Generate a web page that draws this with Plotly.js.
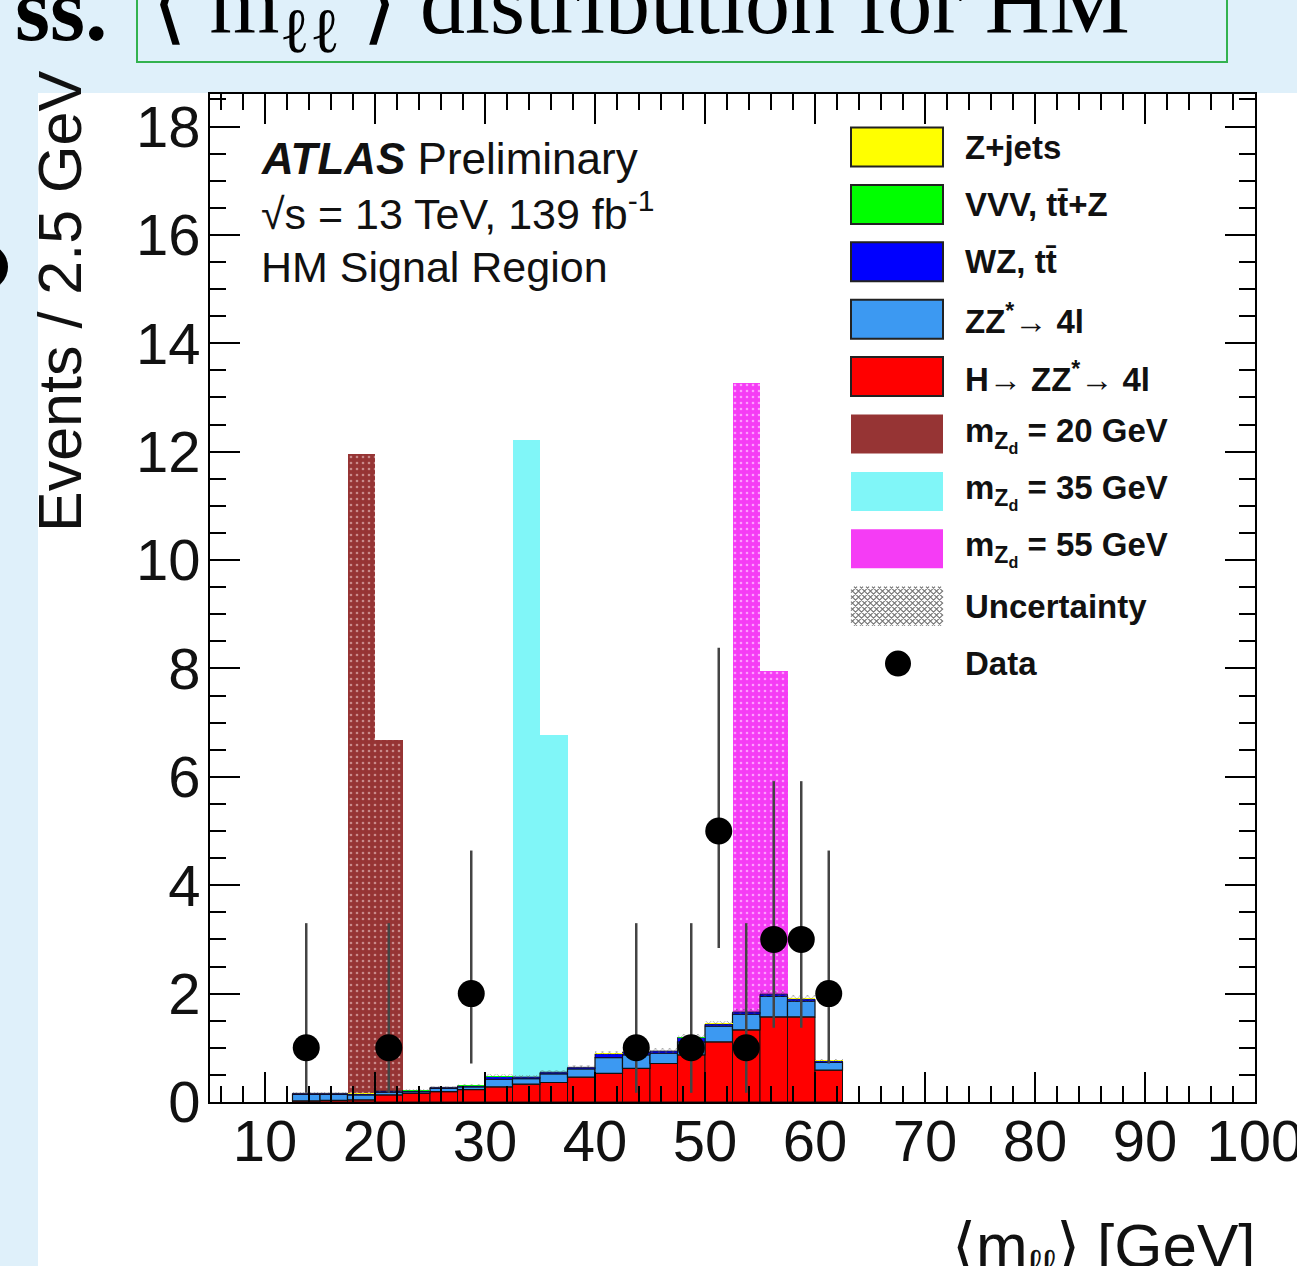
<!DOCTYPE html>
<html><head><meta charset="utf-8">
<script src="https://cdn.plot.ly/plotly-3.0.1.min.js"></script>
<style>html,body{margin:0;padding:0;background:#dff0fa;overflow:hidden}</style>
</head><body><div id="chart" style="width:1297px;height:1266px"></div>
<script>
// ---------------- data ----------------
const binCenters = [13.75,16.25,18.75,21.25,23.75,26.25,28.75,31.25,33.75,36.25,38.75,41.25,43.75,46.25,48.75,51.25,53.75,56.25,58.75,61.25];
const higgs = [0.02,0.03,0.04,0.13,0.16,0.19,0.23,0.28,0.33,0.36,0.46,0.53,0.62,0.71,0.87,1.11,1.33,1.57,1.57,0.59];
const zz    = [0.12,0.11,0.09,0.05,0.03,0.06,0.05,0.14,0.10,0.16,0.15,0.29,0.25,0.19,0.24,0.29,0.29,0.38,0.29,0.14];
const wz    = [0.02,0.02,0.02,0.02,0.02,0.02,0.02,0.05,0.03,0.03,0.03,0.07,0.05,0.04,0.08,0.04,0.04,0.04,0.04,0.03];
const vvv   = [0.005,0.005,0.005,0.005,0.005,0.005,0.005,0.005,0.005,0.005,0.005,0.005,0.005,0.005,0.005,0.005,0.005,0.005,0.005,0.005];
const zjets = [0.005,0.005,0.005,0.005,0.005,0.005,0.005,0.005,0.005,0.005,0.005,0.005,0.005,0.005,0.005,0.005,0.005,0.005,0.005,0.005];
const uncert = [0.02,0.02,0.02,0.02,0.02,0.02,0.02,0.03,0.03,0.03,0.03,0.04,0.04,0.04,0.05,0.05,0.05,0.06,0.06,0.03];

const sig20X = [18.75,21.25];  const sig20Y = [11.95,6.68];
const sig35X = [33.75,36.25];  const sig35Y = [12.22,6.77];
const sig55X = [53.75,56.25];  const sig55Y = [13.27,7.95];

const dataX = [13.75,21.25,28.75,43.75,48.75,51.25,53.75,56.25,58.75,61.25];
const dataY = [1,1,2,1,1,5,1,3,3,2];
const dataErrUp   = [2.30,2.30,2.64,2.30,2.30,3.38,2.30,2.92,2.92,2.64];
const dataErrDown = [0.83,0.83,1.29,0.83,0.83,2.16,0.83,1.63,1.63,1.29];

const legendLabels = ["Z+jets","VVV, tt\u0304+Z","WZ, tt\u0304","ZZ<sup>*</sup>\u2192 4l","H\u2192 ZZ<sup>*</sup>\u2192 4l",
  "m<sub>Z<sub>d</sub></sub> = 20 GeV","m<sub>Z<sub>d</sub></sub> = 35 GeV","m<sub>Z<sub>d</sub></sub> = 55 GeV","Uncertainty","Data"];
const legendColors = ["#ffff00","#00ff00","#0000ff","#3c99f2","#ff0000","#963434","#80f6f8","#f53cf5"];

const xTitle = "\u27e8m<sub>\u2113\u2113</sub>\u27e9 [GeV]";
const yTitle = "Events / 2.5 GeV";

// ---------------- geometry ----------------
const W = 1297, H = 1266;
const L = 210, R = 1255, T = 94, B = 1102;
const px = x => (x - L) / (R - L);
const py = y => (B - y) / (B - T);

function addArr(a, b) { return a.map((v, i) => v + b[i]); }
const base1 = higgs;
const base2 = addArr(base1, zz);
const base3 = addArr(base2, wz);
const base4 = addArr(base3, vvv);
const total = addArr(base4, zjets);
const uncBase = total.map((v, i) => v - uncert[i]);
const uncH = uncert.map(v => 2 * v);

const BW = 2.5;
const traces = [];
function sig(x, y, color, pattern) {
  const m = {color: color, line: {width: 0}};
  if (pattern) m.pattern = pattern;
  return {type: 'bar', x: x, y: y, width: BW, marker: m, hoverinfo: 'skip', showlegend: false};
}
traces.push(sig(sig20X, sig20Y, '#963434', {shape: '.', bgcolor: '#963434', fgcolor: '#c98a8a', size: 6, solidity: 0.15}));
traces.push(sig(sig35X, sig35Y, '#80f6f8', null));
traces.push(sig(sig55X, sig55Y, '#f53cf5', {shape: '.', bgcolor: '#f53cf5', fgcolor: '#ff9cff', size: 6, solidity: 0.15}));

function bkg(y, base, color, lw) {
  return {type: 'bar', x: binCenters, y: y, base: base, width: BW,
    marker: {color: color, line: {width: lw, color: '#111'}}, hoverinfo: 'skip', showlegend: false};
}
traces.push(bkg(higgs, binCenters.map(() => 0), '#ff0000', 1));
traces.push(bkg(zz, base1, '#3c99f2', 1.2));
traces.push(bkg(wz, base2, '#0000ff', 0.8));
traces.push(bkg(vvv, base3, '#00ff00', 0));
traces.push(bkg(zjets, base4, '#ffff00', 0));
traces.push({type: 'bar', x: binCenters, y: uncH, base: uncBase, width: BW,
  marker: {color: 'rgba(0,0,0,0)', line: {width: 0},
    pattern: {shape: 'x', fgcolor: '#555', bgcolor: 'rgba(0,0,0,0)', size: 5, solidity: 0.3, fillmode: 'overlay'}},
  hoverinfo: 'skip', showlegend: false});
traces.push({type: 'scatter', mode: 'markers', x: dataX, y: dataY,
  marker: {color: '#000', size: 27},
  error_y: {type: 'data', symmetric: false, array: dataErrUp, arrayminus: dataErrDown, width: 0, thickness: 2.5, color: '#444'},
  hoverinfo: 'skip', showlegend: false});

// ---------------- shapes ----------------
const shapes = [];
shapes.push({type: 'rect', xref: 'paper', yref: 'paper', x0: px(38), x1: px(W + 5), y0: py(93), y1: py(H + 5),
  fillcolor: '#ffffff', line: {width: 0}, layer: 'below'});
shapes.push({type: 'rect', xref: 'paper', yref: 'paper', x0: px(137), x1: px(1227), y0: py(-10), y1: py(62),
  fillcolor: 'rgba(0,0,0,0)', line: {width: 2, color: '#33b24f'}});
shapes.push({type: 'circle', xref: 'paper', yref: 'paper', x0: px(-38), x1: px(8), y0: py(244), y1: py(290),
  fillcolor: '#000', line: {width: 0}});

const legX0 = 851, legX1 = 943, legY0 = 147, legDY = 57.4, boxH = 39;
const annotations = [];
legendLabels.forEach((lab, i) => {
  const cy = legY0 + i * legDY;
  if (i < 8) {
    shapes.push({type: 'rect', xref: 'paper', yref: 'paper', x0: px(legX0), x1: px(legX1),
      y0: py(cy + boxH / 2), y1: py(cy - boxH / 2), fillcolor: legendColors[i],
      line: {width: i < 5 ? 2 : 0, color: '#222'}});
  } else if (i === 8) {
    const w = legX1 - legX0, h = boxH, s = 6;
    const x0 = legX0, y0 = cy - h / 2;
    let p = '';
    for (let c = -h; c <= w; c += s) {
      const xa = Math.max(0, c), xb = Math.min(w, h + c);
      if (xa < xb) p += `M${px(x0 + xa)},${py(y0 + xa - c)}L${px(x0 + xb)},${py(y0 + xb - c)}`;
    }
    for (let c = 0; c <= w + h; c += s) {
      const xa = Math.max(0, c - h), xb = Math.min(w, c);
      if (xa < xb) p += `M${px(x0 + xa)},${py(y0 + c - xa)}L${px(x0 + xb)},${py(y0 + c - xb)}`;
    }
    shapes.push({type: 'path', xref: 'paper', yref: 'paper', path: p, line: {width: 1.2, color: '#777'}});
  } else {
    shapes.push({type: 'circle', xref: 'paper', yref: 'paper', x0: px(898 - 13), x1: px(898 + 13),
      y0: py(cy + 13), y1: py(cy - 13), fillcolor: '#000', line: {width: 0}});
  }
  annotations.push({xref: 'paper', yref: 'paper', x: px(963), y: py(cy), xanchor: 'left', yanchor: 'middle',
    text: '<b>' + lab + '</b>', showarrow: false, font: {family: 'Liberation Sans, Arial', size: 33, color: '#111'}});
});

function ann(text, x, y, size, o) {
  return Object.assign({xref: 'paper', yref: 'paper', x: px(x), y: py(y), text: text, showarrow: false,
    xanchor: 'left', yanchor: 'middle', font: {family: 'Liberation Sans, Arial', size: size, color: '#111'}}, o || {});
}
annotations.push(ann('<b><i>ATLAS</i></b> Preliminary', 259, 158, 44));
annotations.push(ann('\u221As = 13 TeV, 139 fb<sup>-1</sup>', 259, 211, 43));
annotations.push(ann('HM Signal Region', 259, 267, 43));
annotations.push(ann(yTitle, 60, 302, 61, {xanchor: 'center', textangle: -90}));
annotations.push(ann(xTitle, 1257, 1250, 62, {xanchor: 'right'}));
annotations.push(ann('\u27e8 m<sub>\u2113\u2113</sub> \u27e9 distribution for HM', 150, 9, 90,
  {font: {family: 'Liberation Serif, serif', size: 90, color: '#000'}}));
annotations.push(ann('<b>ss.</b>', 110, 9, 90,
  {xanchor: 'right', font: {family: 'Liberation Serif, serif', size: 90, color: '#000'}}));

const axisCommon = {showline: true, linecolor: '#000', linewidth: 2, mirror: 'allticks',
  ticks: 'inside', ticklen: 30, tickwidth: 2, tickcolor: '#000', showgrid: false, zeroline: false,
  tickfont: {family: 'Liberation Sans, Arial', size: 58, color: '#111'}, fixedrange: true,
  ticklabeloverflow: 'allow'};

const layout = {
  width: W, height: H,
  margin: {l: L, r: W - R, t: T, b: H - B, pad: 0},
  paper_bgcolor: '#dff0fa', plot_bgcolor: '#ffffff',
  barmode: 'overlay', bargap: 0,
  showlegend: false,
  xaxis: Object.assign({}, axisCommon, {range: [5, 100], tick0: 0, dtick: 10, ticklabelstandoff: -13,
    minor: {dtick: 2, ticks: 'inside', ticklen: 16, tickwidth: 2, tickcolor: '#000'}}),
  yaxis: Object.assign({}, axisCommon, {range: [0, 18.6], tick0: 0, dtick: 2, ticklabelstandoff: -4,
    minor: {dtick: 0.5, ticks: 'inside', ticklen: 16, tickwidth: 2, tickcolor: '#000'}}),
  shapes: shapes,
  annotations: annotations
};

Plotly.newPlot('chart', traces, layout, {staticPlot: true, displayModeBar: false});
</script>
</body></html>
